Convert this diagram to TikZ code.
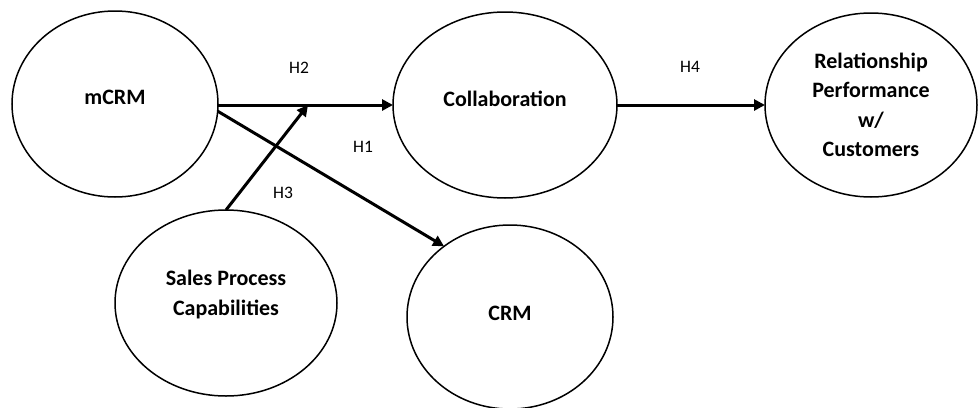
\documentclass[tikz,border=0pt]{standalone}
\usepackage{fontspec}
\setmainfont{Carlito}
\usetikzlibrary{shapes.geometric,arrows.meta}
\begin{document}
\begin{tikzpicture}[x=1pt,y=-1pt,
  construct/.style={draw=black,ellipse,line width=1.5pt,inner sep=0pt,outer sep=0pt,
     align=center,font=\fontsize{22}{29.5}\selectfont\bfseries},
  conn/.style={line width=3pt,-{Triangle[length=11pt,width=11pt]}},
  hlabel/.style={font=\fontsize{17.5}{20}\selectfont,inner sep=0pt}]
\useasboundingbox (0,0) rectangle (980,407);
\node[construct,minimum width=206pt,minimum height=186pt,text depth=14pt] (mcrm) at (115,104) {mCRM};
\node[construct,minimum width=224pt,minimum height=186pt,text depth=12pt] (collab) at (505,105) {Collaboration};
\node[construct,minimum width=212pt,minimum height=184pt] (rel) at (871,105) {Relationship\\Performance\\w/\\Customers};
\node[construct,minimum width=222pt,minimum height=186pt,text depth=20pt] (sales) at (226,303) {Sales Process\\Capabilities};
\node[construct,minimum width=206pt,minimum height=184pt,text depth=8pt] (crm) at (510,317) {CRM};
\coordinate (j) at (308,105);
\draw[conn] (mcrm.east |- collab.west) -- (collab.west);
\draw[conn] (mcrm.-4) -- (crm.133);
\draw[conn] (sales.north) -- (j);
\draw[conn] (collab.east) -- (rel.west);
\node[hlabel] (h2) at (299,68) {H2};
\node[hlabel] (h1) at (363,147) {H1};
\node[hlabel] (h3) at (283,193) {H3};
\node[hlabel] (h4) at (690,67) {H4};
\end{tikzpicture}
\end{document}
